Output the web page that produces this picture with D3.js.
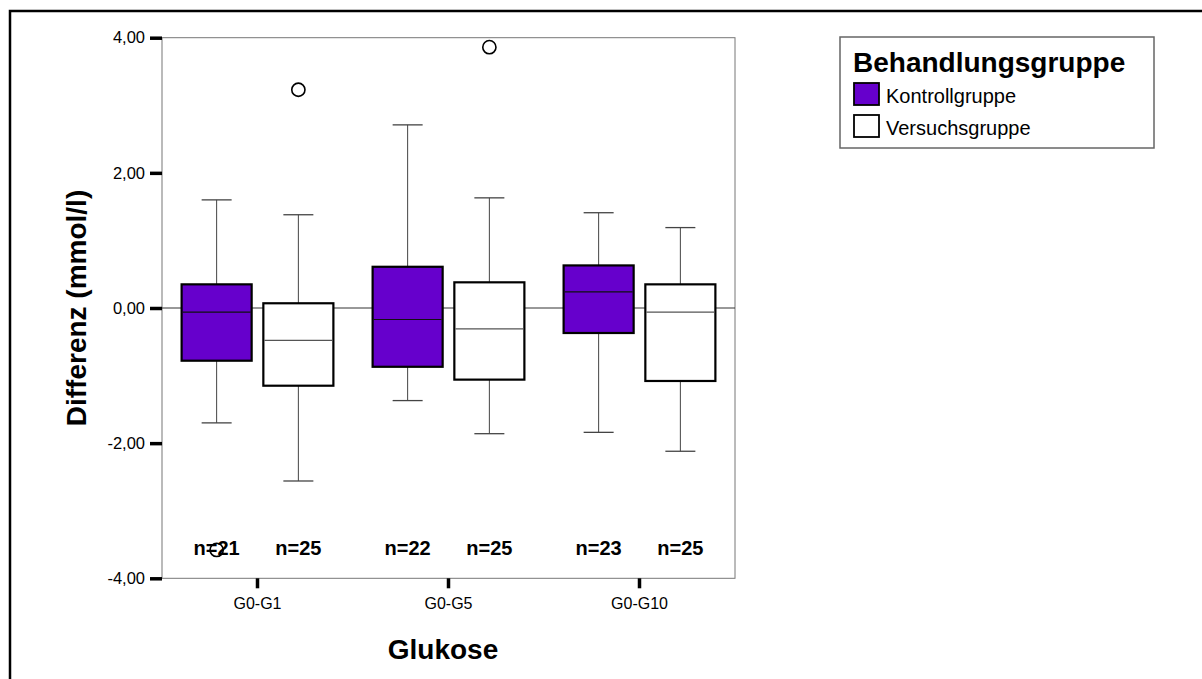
<!DOCTYPE html>
<html>
<head>
<meta charset="utf-8">
<script src="https://cdn.jsdelivr.net/npm/d3@7"></script>
<style>
  body { margin: 0; background: #fff; }
  svg { display: block; font-family: "Liberation Sans", Arial, sans-serif; }
</style>
</head>
<body>
<div id="chart"></div>
<script>
// Boxplot data (values in mmol/l)
const groups = ["G0-G1", "G0-G5", "G0-G10"];
const series = ["Kontrollgruppe", "Versuchsgruppe"];
const colors = ["#6600cc", "#ffffff"];

// per series: one value per group
const whiskerLow = [[-1.70, -1.37, -1.84], [-2.56, -1.86, -2.12]];
const q1 = [[-0.78, -0.87, -0.37], [-1.15, -1.06, -1.08]];
const median = [[-0.06, -0.17, 0.24], [-0.48, -0.31, -0.06]];
const q3 = [[0.35, 0.61, 0.63], [0.07, 0.38, 0.35]];
const whiskerHigh = [[1.60, 2.71, 1.41], [1.38, 1.63, 1.19]];
const counts = [[21, 22, 23], [25, 25, 25]];
const outliers = [[[-3.58], [], []], [[3.23], [3.86], []]];

const yTicks = [-4, -2, 0, 2, 4];

const width = 1202, height = 679;
const svg = d3.select("#chart").append("svg")
    .attr("width", width)
    .attr("height", height);

// outer frame (only top and left edges are visible in the picture)
svg.append("rect")
    .attr("x", 10).attr("y", 11)
    .attr("width", width + 20).attr("height", height + 20)
    .attr("fill", "none")
    .attr("stroke", "#000")
    .attr("stroke-width", 2.5);

const plot = { left: 162, right: 735, top: 37.7, bottom: 578.3 };

const y = d3.scaleLinear().domain([-4, 4]).range([plot.bottom, plot.top]);
const x = d3.scaleBand().domain(groups).range([plot.left, plot.right]).padding(0);
const xSub = d3.scaleBand().domain(series).range([0, x.bandwidth()])
    .paddingInner(0.143).paddingOuter(0.24);

// german decimal comma, plain hyphen as minus
const fmt = d => d3.format(".2f")(d).replace(".", ",").replace("\u2212", "-");

// plot frame
svg.append("rect")
    .attr("x", plot.left).attr("y", plot.top)
    .attr("width", plot.right - plot.left).attr("height", plot.bottom - plot.top)
    .attr("fill", "none")
    .attr("stroke", "#777")
    .attr("stroke-width", 1);

// y axis
const yAxis = svg.append("g")
    .attr("transform", `translate(${plot.left},0)`)
    .call(d3.axisLeft(y).tickValues(yTicks).tickFormat(fmt).tickSize(12).tickPadding(5));
yAxis.select(".domain").remove();
yAxis.selectAll(".tick line").attr("stroke", "#000").attr("stroke-width", 3.5);
yAxis.selectAll(".tick text")
    .attr("fill", "#000")
    .style("font-size", "16.5px")
    .style("font-family", "'Liberation Sans', Arial, sans-serif");

// x axis
const xAxis = svg.append("g")
    .attr("transform", `translate(0,${plot.bottom})`)
    .call(d3.axisBottom(x).tickSize(10).tickPadding(9));
xAxis.select(".domain").remove();
xAxis.selectAll(".tick line").attr("stroke", "#000").attr("stroke-width", 3.5);
xAxis.selectAll(".tick text")
    .attr("fill", "#000")
    .style("font-size", "16px")
    .style("font-family", "'Liberation Sans', Arial, sans-serif");

// zero reference line
svg.append("line")
    .attr("x1", plot.left).attr("x2", plot.right)
    .attr("y1", y(0)).attr("y2", y(0))
    .attr("stroke", "#333")
    .attr("stroke-width", 1);

// flatten boxes
const boxes = [];
series.forEach((s, si) => {
    groups.forEach((g, gi) => {
        boxes.push({
            s, si, g, gi,
            lo: whiskerLow[si][gi], q1: q1[si][gi], med: median[si][gi],
            q3: q3[si][gi], hi: whiskerHigh[si][gi], n: counts[si][gi],
            out: outliers[si][gi]
        });
    });
});

const bw = xSub.bandwidth();
const capW = 30;

const box = svg.selectAll("g.box")
    .data(boxes)
    .join("g")
    .attr("class", "box")
    .attr("transform", d => `translate(${x(d.g) + xSub(d.s)},0)`);

// whiskers
box.append("line")
    .attr("x1", bw / 2).attr("x2", bw / 2)
    .attr("y1", d => y(d.hi)).attr("y2", d => y(d.q3))
    .attr("stroke", "#444");
box.append("line")
    .attr("x1", bw / 2).attr("x2", bw / 2)
    .attr("y1", d => y(d.q1)).attr("y2", d => y(d.lo))
    .attr("stroke", "#444");
box.append("line")
    .attr("x1", bw / 2 - capW / 2).attr("x2", bw / 2 + capW / 2)
    .attr("y1", d => y(d.hi)).attr("y2", d => y(d.hi))
    .attr("stroke", "#444").attr("stroke-width", 1.3);
box.append("line")
    .attr("x1", bw / 2 - capW / 2).attr("x2", bw / 2 + capW / 2)
    .attr("y1", d => y(d.lo)).attr("y2", d => y(d.lo))
    .attr("stroke", "#444").attr("stroke-width", 1.3);

// boxes
box.append("rect")
    .attr("x", 0).attr("width", bw)
    .attr("y", d => y(d.q3))
    .attr("height", d => y(d.q1) - y(d.q3))
    .attr("fill", d => colors[d.si])
    .attr("stroke", "#000")
    .attr("stroke-width", 2.2);

// median
box.append("line")
    .attr("x1", 1).attr("x2", bw - 1)
    .attr("y1", d => y(d.med)).attr("y2", d => y(d.med))
    .attr("stroke", d => d.si === 0 ? "#111" : "#555")
    .attr("stroke-width", 1.2);

// n labels
box.append("text")
    .attr("x", bw / 2)
    .attr("y", 555)
    .attr("text-anchor", "middle")
    .style("font-size", "20px")
    .style("font-weight", "bold")
    .text(d => "n=" + d.n);

// outliers
box.selectAll("circle")
    .data(d => d.out)
    .join("circle")
    .attr("cx", bw / 2)
    .attr("cy", v => y(v))
    .attr("r", 6.6)
    .attr("fill", "none")
    .attr("stroke", "#000")
    .attr("stroke-width", 1.6);

// axis titles
svg.append("text")
    .attr("transform", `translate(86,${(plot.top + plot.bottom) / 2}) rotate(-90)`)
    .attr("text-anchor", "middle")
    .style("font-size", "28px")
    .style("font-weight", "bold")
    .text("Differenz (mmol/l)");

svg.append("text")
    .attr("x", 443)
    .attr("y", 659)
    .attr("text-anchor", "middle")
    .style("font-size", "28px")
    .style("font-weight", "bold")
    .text("Glukose");

// legend
const legend = svg.append("g").attr("transform", "translate(840,37)");
legend.append("rect")
    .attr("width", 314).attr("height", 111)
    .attr("fill", "#fff")
    .attr("stroke", "#666")
    .attr("stroke-width", 1.5);
legend.append("text")
    .attr("x", 13).attr("y", 35)
    .style("font-size", "28px")
    .style("font-weight", "bold")
    .text("Behandlungsgruppe");
const item = legend.selectAll("g.item")
    .data(series)
    .join("g")
    .attr("class", "item")
    .attr("transform", (d, i) => `translate(14,${46 + i * 32})`);
item.append("rect")
    .attr("width", 25).attr("height", 22)
    .attr("fill", (d, i) => colors[i])
    .attr("stroke", "#000")
    .attr("stroke-width", 1.8);
item.append("text")
    .attr("x", 32).attr("y", 20)
    .style("font-size", "20px")
    .text(d => d);
</script>
</body>
</html>
